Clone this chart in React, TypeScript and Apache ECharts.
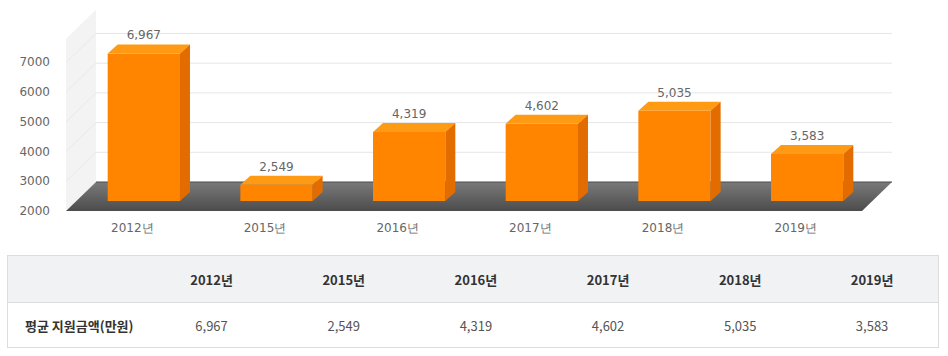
import React, { useEffect, useRef } from 'react';
import * as echarts from 'echarts';

const categories = ['2012년', '2015년', '2016년', '2017년', '2018년', '2019년'];
const values = [6967, 2549, 4319, 4602, 5035, 3583];
const rowLabel = '평균 지원금액(만원)';

const Y_MIN = 2000;
const Y_MAX = 7800;
const Y_STEP = 1000;
const wallTicks = [3000, 4000, 5000, 6000, 7000];

// 3D projection offsets (pixels)
const DX = 30;
const DY = -29;
const BAR_FX = 11.5;
const BAR_FY = -10;
const BAR_DX = 10;
const BAR_DY = -9;

const fmt = (v: number) => v.toLocaleString('en-US');

export default function App() {
  const ref = useRef<HTMLDivElement>(null);

  useEffect(() => {
    if (!ref.current) return;
    const chart = echarts.init(ref.current, null, { renderer: 'svg' });
    chart.setOption({
      animation: false,
      grid: { left: 66, right: 86, top: 38.7, bottom: 39 },
      xAxis: {
        type: 'category',
        data: categories,
        axisLine: { show: false },
        axisTick: { show: false },
        axisLabel: { color: '#666', fontFamily: 'DejaVu Sans', fontSize: 12, margin: 11 },
        splitLine: { show: false },
      },
      yAxis: {
        type: 'value',
        min: Y_MIN,
        max: Y_MAX,
        interval: Y_STEP,
        axisLine: { show: false },
        axisTick: { show: false },
        splitLine: { show: false },
        axisLabel: {
          color: '#666',
          fontFamily: 'DejaVu Sans',
          fontSize: 12,
          margin: 16,
          showMaxLabel: false,
          formatter: (v: number) => String(v),
        },
      },
      series: [
        {
          type: 'custom',
          z: 1,
          silent: true,
          data: [[0, Y_MIN]],
          renderItem: (params: any, api: any) => {
            const cs = params.coordSys;
            const xL = cs.x;
            const xR = cs.x + cs.width;
            const yFloor = api.coord([0, Y_MIN])[1];
            const yTop = api.coord([0, Y_MAX])[1];
            const children: any[] = [];
            children.push({
              type: 'polygon',
              shape: { points: [[xL, yTop], [xL + DX, yTop + DY], [xL + DX, yFloor + DY], [xL, yFloor]] },
              style: { fill: '#f3f3f3' },
            });
            wallTicks.forEach((v) => {
              const y = api.coord([0, v])[1];
              children.push({
                type: 'line',
                shape: { x1: xL + DX, y1: y + DY, x2: xR + DX, y2: y + DY },
                style: { stroke: '#e6e6e6', lineWidth: 1 },
              });
              children.push({
                type: 'line',
                shape: { x1: xL, y1: y, x2: xL + DX, y2: y + DY },
                style: { stroke: '#e9e9e9', lineWidth: 1 },
              });
            });
            children.push({
              type: 'polygon',
              shape: { points: [[xL, yFloor], [xR, yFloor], [xR + DX, yFloor + DY], [xL + DX, yFloor + DY]] },
              style: {
                fill: new echarts.graphic.LinearGradient(0, 0, 0, 1, [
                  { offset: 0, color: '#7a7a7a' },
                  { offset: 1, color: '#4c4c4c' },
                ]),
              },
            });
            children.push({
              type: 'line',
              shape: { x1: xL + DX, y1: yFloor + DY, x2: xR + DX, y2: yFloor + DY },
              style: { stroke: '#4a4a4a', lineWidth: 1 },
            });
            return { type: 'group', children };
          },
        },
        {
          type: 'custom',
          z: 2,
          data: values.map((v, i) => [i, v]),
          renderItem: (params: any, api: any) => {
            const idx = api.value(0);
            const v = api.value(1);
            const top = api.coord([idx, v]);
            const base = api.coord([idx, Y_MIN]);
            const bw = api.size([1, 0])[0] * 0.545;
            const cx = top[0] + BAR_FX;
            const x0 = cx - bw / 2;
            const x1 = cx + bw / 2;
            const yT = top[1] + BAR_FY;
            const yB = base[1] + BAR_FY;
            return {
              type: 'group',
              children: [
                {
                  type: 'polygon',
                  shape: { points: [[x0, yT], [x1, yT], [x1, yB], [x0, yB]] },
                  style: { fill: '#ff8400' },
                },
                {
                  type: 'polygon',
                  shape: { points: [[x0, yT], [x1, yT], [x1 + BAR_DX, yT + BAR_DY], [x0 + BAR_DX, yT + BAR_DY]] },
                  style: { fill: '#ff9a14' },
                },
                {
                  type: 'polygon',
                  shape: { points: [[x1, yT], [x1 + BAR_DX, yT + BAR_DY], [x1 + BAR_DX, yB + BAR_DY], [x1, yB]] },
                  style: { fill: '#e36c00' },
                },
                {
                  type: 'text',
                  style: {
                    x: cx,
                    y: yT + BAR_DY - 3,
                    text: fmt(v),
                    align: 'center',
                    verticalAlign: 'bottom',
                    fill: '#666',
                    fontFamily: 'DejaVu Sans',
                    fontSize: 12,
                  },
                },
              ],
            };
          },
        },
      ],
    });
    return () => chart.dispose();
  }, []);

  const cellFont = "'Noto Sans CJK KR', 'Noto Sans', sans-serif";
  const colW = (938 - 145) / categories.length;

  return (
    <div style={{ position: 'absolute', left: 0, top: 0, width: 948, height: 356, background: '#fff', overflow: 'hidden' }}>
      <div ref={ref} style={{ position: 'absolute', left: 0, top: 0, width: 948, height: 250 }} />
      <table
        style={{
          position: 'absolute',
          left: 7,
          top: 255,
          width: 931,
          borderCollapse: 'collapse',
          tableLayout: 'fixed',
          fontFamily: cellFont,
          fontSize: 13,
          border: '1px solid #dcdcdc',
        }}
      >
        <colgroup>
          <col style={{ width: 138 }} />
          {categories.map((c) => (
            <col key={c} style={{ width: colW }} />
          ))}
        </colgroup>
        <tbody>
          <tr style={{ background: '#f1f2f4', height: 47 }}>
            <td style={{ padding: 0 }} />
            {categories.map((c) => (
              <td key={c} style={{ textAlign: 'center', fontWeight: 'bold', color: '#333', padding: 0 }}>
                {c}
              </td>
            ))}
          </tr>
          <tr style={{ height: 45, borderTop: '1px solid #dcdcdc' }}>
            <td style={{ paddingLeft: 17, fontWeight: 'bold', color: '#333', whiteSpace: 'nowrap' }}>{rowLabel}</td>
            {values.map((v, i) => (
              <td key={i} style={{ textAlign: 'center', color: '#555', padding: 0 }}>
                {fmt(v)}
              </td>
            ))}
          </tr>
        </tbody>
      </table>
    </div>
  );
}
